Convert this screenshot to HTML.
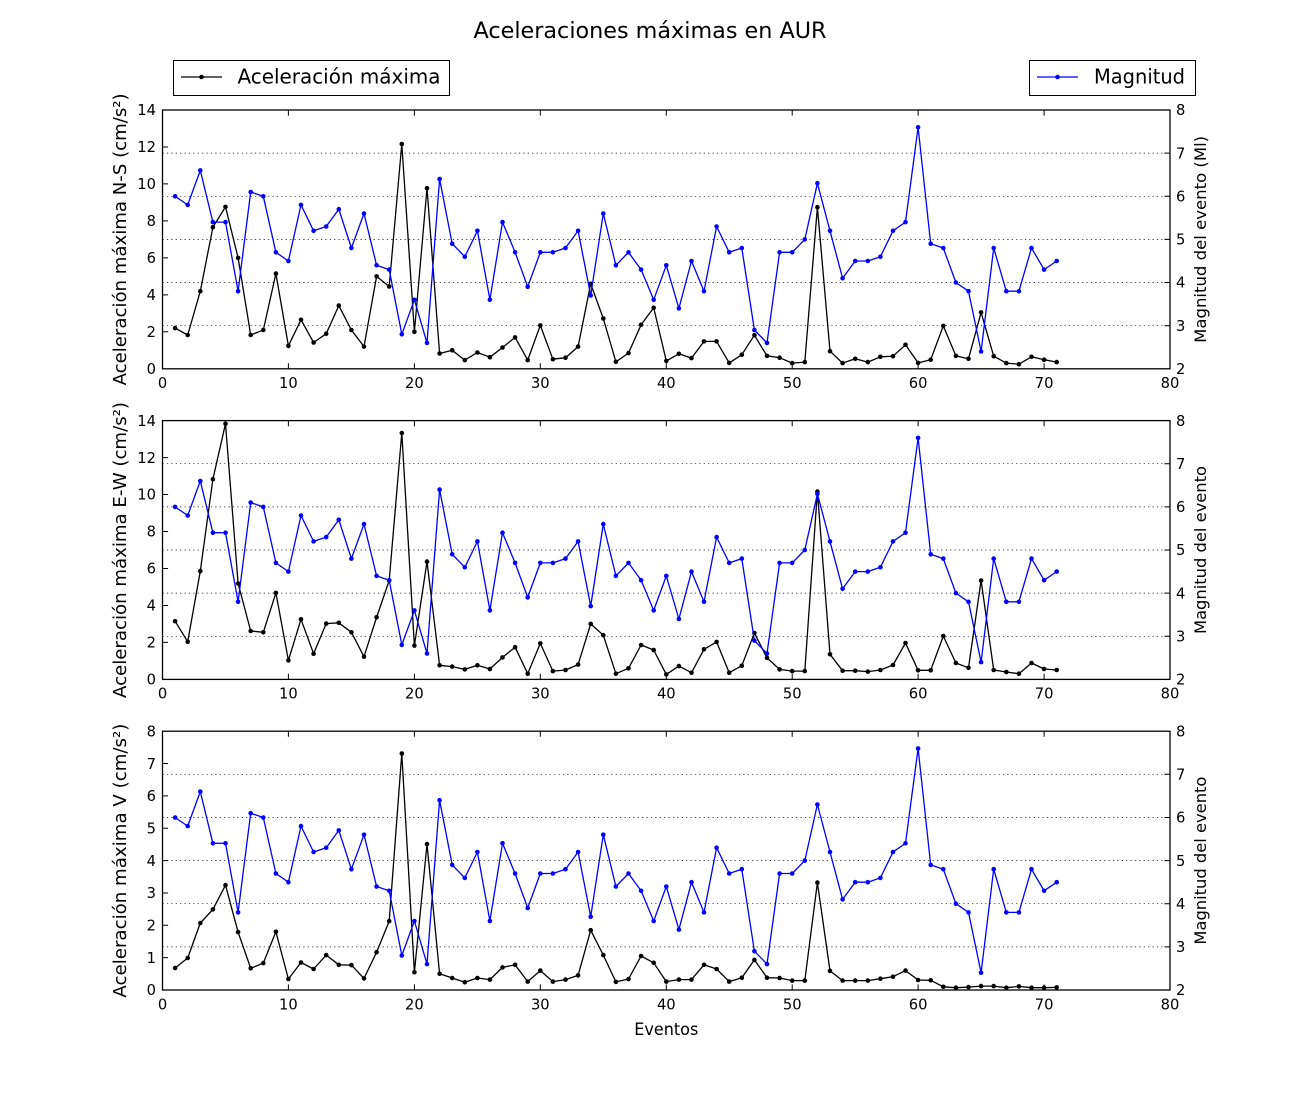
<!DOCTYPE html>
<html><head><meta charset="utf-8"><style>
html,body{margin:0;padding:0;background:#fff;}
svg{display:block;}
text{font-family:"DejaVu Sans","Liberation Sans",sans-serif;fill:#000;}
.tk{font-size:14.7px;}
</style></head><body>
<svg width="1300" height="1100" viewBox="0 0 1300 1100" xmlns="http://www.w3.org/2000/svg">
<defs>
<marker id="mk" viewBox="-3 -3 6 6" markerWidth="6" markerHeight="6" markerUnits="userSpaceOnUse" refX="0" refY="0"><circle r="2.3" fill="#000"/></marker>
<marker id="mb" viewBox="-3 -3 6 6" markerWidth="6" markerHeight="6" markerUnits="userSpaceOnUse" refX="0" refY="0"><circle r="2.3" fill="#0000ff"/></marker>
</defs>
<rect width="1300" height="1100" fill="#fff"/>

<text x="650" y="38" text-anchor="middle" font-size="22" textLength="353" lengthAdjust="spacingAndGlyphs">Aceleraciones máximas en AUR</text>

<!-- legends -->
<rect x="173.5" y="60.5" width="276" height="35" fill="#fff" stroke="#000" stroke-width="1"/>
<line x1="181" y1="77" x2="222" y2="77" stroke="#000" stroke-width="1.3"/>
<circle cx="201.5" cy="77" r="2.3" fill="#000"/>
<text x="237.5" y="83.5" font-size="20" textLength="203" lengthAdjust="spacingAndGlyphs">Aceleración máxima</text>
<rect x="1029.5" y="60.5" width="166" height="35" fill="#fff" stroke="#000" stroke-width="1"/>
<line x1="1037" y1="77" x2="1078" y2="77" stroke="#0000ff" stroke-width="1.3"/>
<circle cx="1057.5" cy="77" r="2.3" fill="#0000ff"/>
<text x="1094" y="83.5" font-size="20" textLength="91" lengthAdjust="spacingAndGlyphs">Magnitud</text>

<!-- grid lines -->
<g id="grid" stroke="#000" stroke-width="0.7" stroke-dasharray="1.2,3.2" fill="none">
<path d="M162.5,153.1H1170M162.5,196.3H1170M162.5,239.4H1170M162.5,282.5H1170M162.5,325.7H1170"/>
</g>
<use href="#grid" transform="translate(0,310.6)"/>
<use href="#grid" transform="translate(0,621.2)"/>

<!-- black series -->
<g fill="none" stroke="#000" stroke-width="1.3" stroke-linejoin="round" marker-start="url(#mk)" marker-mid="url(#mk)" marker-end="url(#mk)">
<polyline points="175.1,328.1 187.7,335.0 200.3,291.2 212.9,227.2 225.5,206.9 238.1,257.9 250.7,335.0 263.3,330.0 275.9,273.6 288.4,345.9 301.0,319.8 313.6,342.5 326.2,333.7 338.8,305.6 351.4,330.0 364.0,346.6 376.6,276.4 389.2,286.5 401.8,144.0 414.4,331.8 427.0,188.2 439.6,353.5 452.2,350.3 464.8,360.1 477.4,352.5 489.9,357.2 502.5,347.5 515.1,337.4 527.7,360.1 540.3,325.4 552.9,359.2 565.5,357.7 578.1,346.6 590.7,283.8 603.3,318.5 615.9,361.8 628.5,353.1 641.1,324.8 653.7,307.8 666.3,360.9 678.9,353.8 691.5,358.1 704.0,341.4 716.6,341.4 729.2,362.9 741.8,354.7 754.4,335.2 767.0,355.9 779.6,357.7 792.2,363.1 804.8,362.1 817.4,207.2 830.0,351.2 842.6,363.1 855.2,358.8 867.8,362.1 880.4,356.8 893.0,356.2 905.5,344.8 918.1,362.9 930.7,359.7 943.3,325.9 955.9,355.9 968.5,358.8 981.1,312.4 993.7,356.2 1006.3,363.1 1018.9,364.2 1031.5,356.8 1044.1,359.7 1056.7,362.1"/>
<polyline points="175.1,621.2 187.7,641.7 200.3,571.1 212.9,479.2 225.5,423.7 238.1,583.5 250.7,631.0 263.3,632.3 275.9,592.9 288.4,660.4 301.0,619.3 313.6,653.7 326.2,623.6 338.8,622.8 351.4,632.3 364.0,656.7 376.6,617.3 389.2,580.5 401.8,433.0 414.4,645.6 427.0,561.6 439.6,665.3 452.2,666.6 464.8,669.4 477.4,665.3 489.9,669.0 502.5,657.4 515.1,647.2 527.7,673.7 540.3,643.4 552.9,671.1 565.5,670.0 578.1,664.6 590.7,623.9 603.3,635.2 615.9,673.7 628.5,668.3 641.1,645.0 653.7,650.0 666.3,674.4 678.9,666.1 691.5,672.7 704.0,649.3 716.6,641.9 729.2,672.7 741.8,665.7 754.4,633.0 767.0,657.9 779.6,669.4 792.2,671.1 804.8,671.1 817.4,491.6 830.0,654.3 842.6,670.7 855.2,670.7 867.8,671.6 880.4,670.0 893.0,665.0 905.5,643.0 918.1,670.3 930.7,670.3 943.3,636.0 955.9,663.0 968.5,667.8 981.1,580.5 993.7,670.0 1006.3,672.0 1018.9,673.7 1031.5,663.0 1044.1,669.0 1056.7,670.0"/>
<polyline points="175.1,968.0 187.7,958.0 200.3,923.0 212.9,909.4 225.5,885.2 238.1,932.1 250.7,968.3 263.3,963.1 275.9,931.8 288.4,979.0 301.0,962.5 313.6,969.0 326.2,955.1 338.8,964.8 351.4,965.1 364.0,978.4 376.6,952.2 389.2,921.1 401.8,753.5 414.4,972.2 427.0,844.1 439.6,973.8 452.2,978.0 464.8,982.2 477.4,978.0 489.9,979.6 502.5,967.4 515.1,964.8 527.7,981.6 540.3,970.6 552.9,981.6 565.5,979.6 578.1,975.4 590.7,930.2 603.3,955.1 615.9,981.9 628.5,979.0 641.1,956.0 653.7,962.8 666.3,981.6 678.9,979.6 691.5,979.6 704.0,964.8 716.6,969.0 729.2,981.6 741.8,977.7 754.4,959.9 767.0,977.7 779.6,978.0 792.2,980.6 804.8,980.6 817.4,882.6 830.0,970.9 842.6,980.6 855.2,980.6 867.8,980.6 880.4,978.7 893.0,976.7 905.5,970.6 918.1,980.0 930.7,980.3 943.3,986.8 955.9,987.7 968.5,987.1 981.1,986.1 993.7,986.1 1006.3,987.7 1018.9,986.4 1031.5,987.7 1044.1,987.7 1056.7,987.4"/>
</g>

<!-- blue series -->
<g id="blue" fill="none" stroke="#0000ff" stroke-width="1.3" stroke-linejoin="round" marker-start="url(#mb)" marker-mid="url(#mb)" marker-end="url(#mb)">
<polyline points="175.1,196.3 187.7,204.9 200.3,170.4 212.9,222.1 225.5,222.1 238.1,291.2 250.7,192.0 263.3,196.3 275.9,252.3 288.4,261.0 301.0,204.9 313.6,230.8 326.2,226.5 338.8,209.2 351.4,248.0 364.0,213.5 376.6,265.3 389.2,269.6 401.8,334.3 414.4,299.8 427.0,342.9 439.6,179.0 452.2,243.7 464.8,256.7 477.4,230.8 489.9,299.8 502.5,222.1 515.1,252.3 527.7,286.8 540.3,252.3 552.9,252.3 565.5,248.0 578.1,230.8 590.7,295.5 603.3,213.5 615.9,265.3 628.5,252.3 641.1,269.6 653.7,299.8 666.3,265.3 678.9,308.4 691.5,261.0 704.0,291.2 716.6,226.5 729.2,252.3 741.8,248.0 754.4,330.0 767.0,342.9 779.6,252.3 792.2,252.3 804.8,239.4 817.4,183.3 830.0,230.8 842.6,278.2 855.2,261.0 867.8,261.0 880.4,256.7 893.0,230.8 905.5,222.1 918.1,127.3 930.7,243.7 943.3,248.0 955.9,282.5 968.5,291.2 981.1,351.5 993.7,248.0 1006.3,291.2 1018.9,291.2 1031.5,248.0 1044.1,269.6 1056.7,261.0"/>
</g>
<use href="#blue" transform="translate(0,310.6)"/>
<use href="#blue" transform="translate(0,621.2)"/>

<!-- frames + ticks -->
<g fill="none" stroke="#000" stroke-width="1.3">
<rect x="162.5" y="110" width="1007.5" height="258.8"/>
<rect x="162.5" y="420.6" width="1007.5" height="258.8"/>
<rect x="162.5" y="731.2" width="1007.5" height="258.8"/>
</g>
<g id="xr" fill="none" stroke="#000" stroke-width="1">
<path d="M288.4,110v5.6M414.4,110v5.6M540.3,110v5.6M666.3,110v5.6M792.2,110v5.6M918.1,110v5.6M1044.1,110v5.6M288.4,368.8v-5.6M414.4,368.8v-5.6M540.3,368.8v-5.6M666.3,368.8v-5.6M792.2,368.8v-5.6M918.1,368.8v-5.6M1044.1,368.8v-5.6"/>
<path d="M1170,325.7h-5.6M1170,282.5h-5.6M1170,239.4h-5.6M1170,196.3h-5.6M1170,153.1h-5.6"/>
<path d="M162.5,331.8h5.6M162.5,294.9h5.6M162.5,257.9h5.6M162.5,220.9h5.6M162.5,183.9h5.6M162.5,147.0h5.6"/>
</g>
<use href="#xr" transform="translate(0,310.6)"/>
<g fill="none" stroke="#000" stroke-width="1">
<path d="M288.4,731.2v5.6M414.4,731.2v5.6M540.3,731.2v5.6M666.3,731.2v5.6M792.2,731.2v5.6M918.1,731.2v5.6M1044.1,731.2v5.6M288.4,990v-5.6M414.4,990v-5.6M540.3,990v-5.6M666.3,990v-5.6M792.2,990v-5.6M918.1,990v-5.6M1044.1,990v-5.6"/>
<path d="M1170,946.9h-5.6M1170,903.7h-5.6M1170,860.6h-5.6M1170,817.5h-5.6M1170,774.3h-5.6"/>
<path d="M162.5,957.65h5.6M162.5,925.3h5.6M162.5,892.95h5.6M162.5,860.6h5.6M162.5,828.25h5.6M162.5,795.9h5.6M162.5,763.55h5.6"/>
</g>

<!-- x tick labels -->
<g class="tk" text-anchor="middle">
<text x="162.5" y="387.8">0</text><text x="288.4" y="387.8">10</text><text x="414.4" y="387.8">20</text><text x="540.3" y="387.8">30</text><text x="666.3" y="387.8">40</text><text x="792.2" y="387.8">50</text><text x="918.1" y="387.8">60</text><text x="1044.1" y="387.8">70</text><text x="1170" y="387.8">80</text>
<text x="162.5" y="698.4">0</text><text x="288.4" y="698.4">10</text><text x="414.4" y="698.4">20</text><text x="540.3" y="698.4">30</text><text x="666.3" y="698.4">40</text><text x="792.2" y="698.4">50</text><text x="918.1" y="698.4">60</text><text x="1044.1" y="698.4">70</text><text x="1170" y="698.4">80</text>
<text x="162.5" y="1009.5">0</text><text x="288.4" y="1009.5">10</text><text x="414.4" y="1009.5">20</text><text x="540.3" y="1009.5">30</text><text x="666.3" y="1009.5">40</text><text x="792.2" y="1009.5">50</text><text x="918.1" y="1009.5">60</text><text x="1044.1" y="1009.5">70</text><text x="1170" y="1009.5">80</text>
</g>

<!-- left tick labels -->
<g class="tk" text-anchor="end">
<text x="156" y="374">0</text><text x="156" y="337">2</text><text x="156" y="300">4</text><text x="156" y="263">6</text><text x="156" y="226">8</text><text x="156" y="189">10</text><text x="156" y="152">12</text><text x="156" y="115.2">14</text>
<text x="156" y="684.6">0</text><text x="156" y="647.6">2</text><text x="156" y="610.7">4</text><text x="156" y="573.7">6</text><text x="156" y="536.7">8</text><text x="156" y="499.7">10</text><text x="156" y="462.8">12</text><text x="156" y="425.8">14</text>
<text x="156" y="995.2">0</text><text x="156" y="962.9">1</text><text x="156" y="930.5">2</text><text x="156" y="898.2">3</text><text x="156" y="865.8">4</text><text x="156" y="833.5">5</text><text x="156" y="801.1">6</text><text x="156" y="768.8">7</text><text x="156" y="736.4">8</text>
</g>

<!-- right tick labels -->
<g class="tk" text-anchor="start">
<text x="1176" y="374">2</text><text x="1176" y="330.9">3</text><text x="1176" y="287.7">4</text><text x="1176" y="244.6">5</text><text x="1176" y="201.5">6</text><text x="1176" y="158.3">7</text><text x="1176" y="115.2">8</text>
<text x="1176" y="684.6">2</text><text x="1176" y="641.5">3</text><text x="1176" y="598.3">4</text><text x="1176" y="555.2">5</text><text x="1176" y="512.1">6</text><text x="1176" y="468.9">7</text><text x="1176" y="425.8">8</text>
<text x="1176" y="995.2">2</text><text x="1176" y="952.1">3</text><text x="1176" y="908.9">4</text><text x="1176" y="865.8">5</text><text x="1176" y="822.7">6</text><text x="1176" y="779.5">7</text><text x="1176" y="736.4">8</text>
</g>

<!-- axis labels -->
<text transform="translate(126,239.4) rotate(-90)" text-anchor="middle" font-size="18" textLength="292" lengthAdjust="spacingAndGlyphs">Aceleración máxima N-S (cm/s²)</text>
<text transform="translate(126,550) rotate(-90)" text-anchor="middle" font-size="18" textLength="296" lengthAdjust="spacingAndGlyphs">Aceleración máxima E-W (cm/s²)</text>
<text transform="translate(126,860.6) rotate(-90)" text-anchor="middle" font-size="18" textLength="274" lengthAdjust="spacingAndGlyphs">Aceleración máxima V (cm/s²)</text>
<text transform="translate(1206,239.4) rotate(-90)" text-anchor="middle" font-size="16.3" textLength="207" lengthAdjust="spacingAndGlyphs">Magnitud del evento (Ml)</text>
<text transform="translate(1206,550) rotate(-90)" text-anchor="middle" font-size="16.3" textLength="168" lengthAdjust="spacingAndGlyphs">Magnitud del evento</text>
<text transform="translate(1206,860.6) rotate(-90)" text-anchor="middle" font-size="16.3" textLength="168" lengthAdjust="spacingAndGlyphs">Magnitud del evento</text>
<text x="666.3" y="1035" text-anchor="middle" font-size="16.5" textLength="64" lengthAdjust="spacingAndGlyphs">Eventos</text>
</svg>
</body></html>
